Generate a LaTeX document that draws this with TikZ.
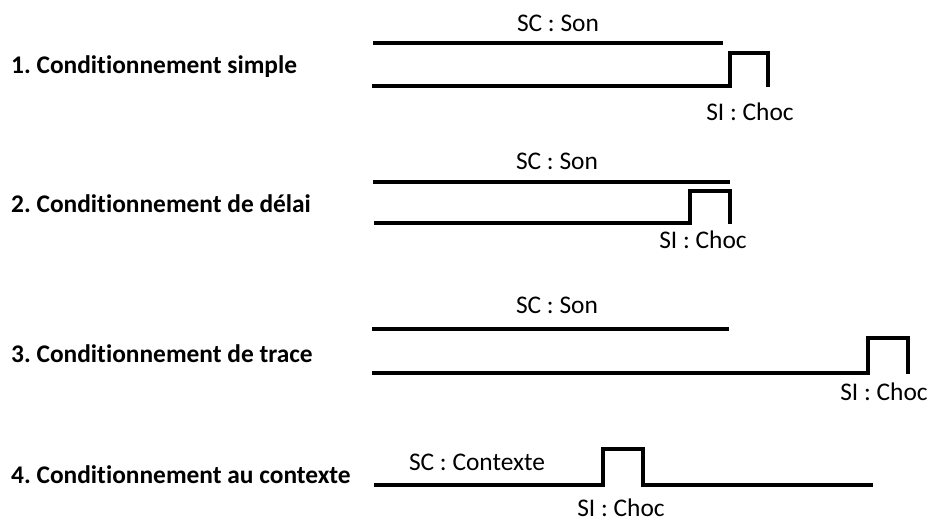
\documentclass[tikz,border=0pt]{standalone}
\usepackage{fontspec}
\setmainfont{Carlito}[Ligatures=NoCommon]
\begin{document}
\frenchspacing
\begin{tikzpicture}[x=1pt,y=-1pt,
  title/.style={anchor=base west,inner sep=0pt,font=\fontsize{25.4}{30}\selectfont\bfseries},
  lab/.style={anchor=base,inner sep=0pt,font=\fontsize{25.4}{30}\selectfont},
  sig/.style={line width=3.8pt,line join=miter,line cap=butt}]
\useasboundingbox (0,0) rectangle (933,522);
\fill[white] (0,0) rectangle (933,522);
% titles
\node[title] (t1) at (11,73) {1. Conditionnement simple};
\node[title] (t2) at (11,212) {2. Conditionnement de délai};
\node[title] (t3) at (11,362) {3. Conditionnement de trace};
\node[title] (t4) at (11,483) {4. Conditionnement au contexte};
% row 1
\node[lab] (sc1) at (558,31) {SC : Son};
\node[lab] (si1) at (750,120) {SI : Choc};
\coordinate (a1s) at (373,43); \coordinate (a1e) at (723,43);
\coordinate (b1s) at (372,86); \coordinate (b1u) at (730,86);
\coordinate (b1t) at (730,53); \coordinate (b1r) at (768,53); \coordinate (b1e) at (768,87);
\draw[sig] (a1s) -- (a1e);
\draw[sig] (b1s) -- (b1u) -- (b1t) -- (b1r) -- (b1e);
% row 2
\node[lab] (sc2) at (557,169) {SC : Son};
\node[lab] (si2) at (703,248) {SI : Choc};
\coordinate (a2s) at (373,182); \coordinate (a2e) at (730,182);
\coordinate (b2s) at (374,223); \coordinate (b2u) at (690,223);
\coordinate (b2t) at (690,191); \coordinate (b2r) at (730,191); \coordinate (b2e) at (730,224);
\draw[sig] (a2s) -- (a2e);
\draw[sig] (b2s) -- (b2u) -- (b2t) -- (b2r) -- (b2e);
% row 3
\node[lab] (sc3) at (557,313) {SC : Son};
\node[lab] (si3) at (884,400) {SI : Choc};
\coordinate (a3s) at (372,329); \coordinate (a3e) at (729,329);
\coordinate (b3s) at (372,373); \coordinate (b3u) at (868,373);
\coordinate (b3t) at (868,338); \coordinate (b3r) at (908,338); \coordinate (b3e) at (908,374);
\draw[sig] (a3s) -- (a3e);
\draw[sig] (b3s) -- (b3u) -- (b3t) -- (b3r) -- (b3e);
% row 4
\node[lab] (sc4) at (477,470) {SC : Contexte};
\node[lab] (si4) at (621,516) {SI : Choc};
\coordinate (c4s) at (374,485); \coordinate (c4u) at (603,485);
\coordinate (c4t) at (603,449); \coordinate (c4r) at (643,449);
\coordinate (c4d) at (643,485); \coordinate (c4e) at (873,485);
\draw[sig] (c4s) -- (c4u) -- (c4t) -- (c4r) -- (c4d) -- (c4e);
\end{tikzpicture}
\end{document}
